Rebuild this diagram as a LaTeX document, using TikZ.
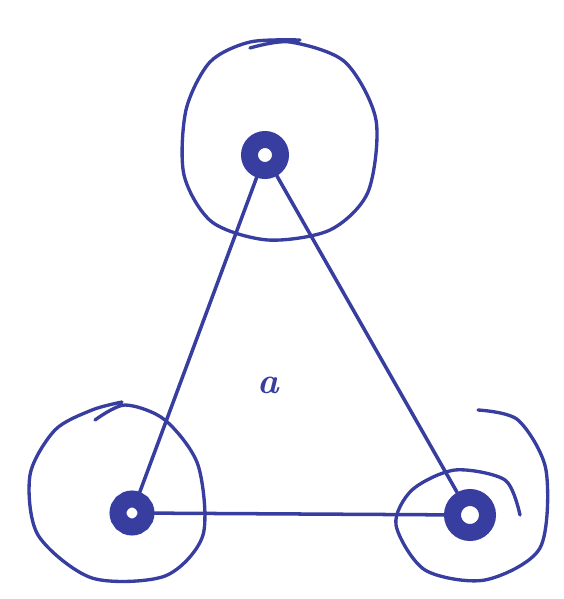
\documentclass[tikz,border=0pt]{standalone}
\usetikzlibrary{calc}
\definecolor{ink}{RGB}{55,62,160}
\tikzset{
  px/.style={x=0.02cm,y=-0.02cm},
  vert/.style={circle,draw=ink,line width=3.4mm,minimum size=6.2mm,inner sep=0pt},
  edge/.style={draw=ink,line width=2pt,line cap=round},
  loopline/.style={draw=ink,line width=1.9pt,line cap=round,line join=round}
}
\begin{document}
\begin{tikzpicture}[px]
\useasboundingbox (0,0) rectangle (564,599);
\node[vert] (t) at (265,155) {};
\node[vert,minimum size=5.6mm] (l) at (132,513) {};
\node[vert,minimum size=7mm] (r) at (470,515) {};
\draw[edge] (t) -- (l);
\draw[edge] (t) -- (r);
\draw[edge] (l) -- (r);
\node[text=ink,font=\bfseries\itshape\huge] (a) at (268,385) {a};
% loops
\draw[loopline] plot[smooth] coordinates {(300,40) (250,42) (210,62) (186,110) (184,175) (212,222) (268,240) (330,230) (368,192) (376,120) (345,62) (290,42) (250,48)};
\draw[loopline] plot[smooth] coordinates {(122,402) (92,410) (55,430) (30,475) (38,535) (92,578) (165,576) (203,535) (198,465) (165,420) (125,405) (95,420)};
\draw[loopline] plot[smooth] coordinates {(478,410) (518,420) (546,470) (540,548) (485,580) (425,570) (396,525) (412,490) (455,470) (505,480) (520,515)};
\end{tikzpicture}
\end{document}
